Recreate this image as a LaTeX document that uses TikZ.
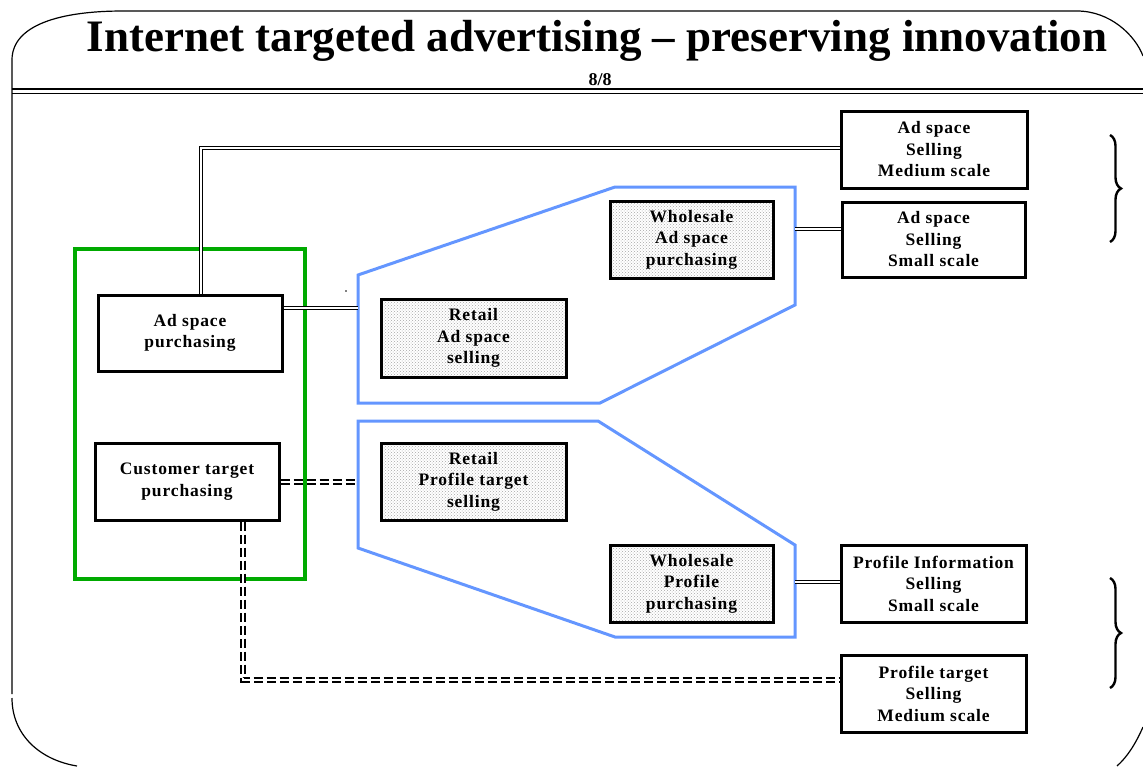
\documentclass[tikz,border=0pt]{standalone}
\usepackage{fontspec}
\setmainfont{Liberation Serif}
\newfontfamily\boxfont[LetterSpace=5]{Liberation Serif}
\usetikzlibrary{patterns,decorations.pathreplacing,calc}
\definecolor{polyblue}{RGB}{100,150,255}
\definecolor{groupgreen}{RGB}{0,170,0}
\begin{document}
\begin{tikzpicture}[x=1pt,y=-1pt,
  box/.style={draw=black,line width=3pt,align=center,inner sep=0pt,
    font=\boxfont\fontsize{17.5}{21.5}\selectfont\bfseries},
  shadedbox/.style={box,preaction={fill=white},pattern=crosshatch dots,pattern color=gray!70},
  dline/.style={draw=black,double=white,line width=1.2pt,double distance=1.8pt},
  ddash/.style={draw=black,double=white,line width=2.2pt,double distance=2pt,dash pattern=on 9pt off 4pt},
  poly/.style={draw=polyblue,line width=3pt,line join=miter},
  framel/.style={draw=black,line width=1.2pt},
  bracel/.style={draw=black,line width=2.4pt,decorate,decoration={brace,amplitude=11pt}}]
\useasboundingbox (0,0) rectangle (1143,766);

% outer frame
\draw[framel] (12,694) -- (12,60) .. controls (12,25) and (60,11) .. (123,11) -- (1077,11)
  .. controls (1110,11) and (1135,35) .. (1143,56);
\draw[framel] (12,698) .. controls (12,735) and (40,760) .. (77,766);
\draw[framel] (1143,727) .. controls (1135,745) and (1127,757) .. (1117,766);
\draw[black,line width=2pt] (12,89) -- (1143,89);
\draw[black,line width=1pt] (12,93.5) -- (1143,93.5);

% title
\node[anchor=base,font=\fontsize{45}{45}\selectfont\bfseries] (title) at (597,51)
  {Internet targeted advertising – preserving innovation};
\node[anchor=base,font=\fontsize{18}{18}\selectfont\bfseries] (page) at (600,85) {8/8};

% green group
\draw[groupgreen,line width=4pt] (75,249) rectangle (305,579);

% blue polygons
\draw[poly] (358,275) -- (615,187) -- (795,187) -- (795,305) -- (600,403) -- (358,403) -- cycle;
\draw[poly] (358,421) -- (598,421) -- (795,545) -- (795,637) -- (615,637) -- (358,548) -- cycle;

% stray dot
\fill (346,291) circle (0.8);

% named connection points
\coordinate (up) at (201,148);
\coordinate (p1) at (358,308);
\coordinate (p2) at (795,229);
\coordinate (p3) at (795,582);
\coordinate (p4) at (358,482);
\coordinate (dn) at (243,680);

% boxes
\node[box,minimum width=186pt,minimum height=77pt] (asm) at (934,149.5) {Ad space\\Selling\\Medium scale};
\node[box,minimum width=183pt,minimum height=75pt] (ass) at (933.5,239.5) {Ad space\\Selling\\Small scale};
\node[shadedbox,minimum width=163pt,minimum height=77pt] (wap) at (691.5,239.5) {Wholesale\\Ad space\\purchasing};
\node[shadedbox,minimum width=185pt,minimum height=78pt] (ras) at (473.5,338) {Retail\\Ad space\\selling};
\node[box,minimum width=184pt,minimum height=76pt] (asp) at (190,333) {Ad space\\purchasing};
\node[box,minimum width=184pt,minimum height=77pt] (ctp) at (187,481.5) {Customer target\\purchasing};
\node[shadedbox,minimum width=185pt,minimum height=77pt] (rps) at (473.5,481.5) {Retail\\Profile target\\selling};
\node[shadedbox,minimum width=163pt,minimum height=77pt] (wpp) at (691.5,583.5) {Wholesale\\Profile\\purchasing};
\node[box,minimum width=185pt,minimum height=77pt] (pis) at (933.5,583.5) {Profile Information\\Selling\\Small scale};
\node[box,minimum width=185pt,minimum height=77pt] (ptm) at (933.5,693.5) {Profile target\\Selling\\Medium scale};

% connectors
\draw[dline] (up |- asp.north) -- (up) -- (up -| asm.west);
\draw[dline] (p1 -| asp.east) -- (p1);
\draw[dline] (p2) -- (p2 -| ass.west);
\draw[dline] (p3) -- (p3 -| pis.west);
\draw[ddash] (p4 -| ctp.east) -- (p4);
\draw[ddash] (dn |- ctp.south) -- (dn) -- (dn -| ptm.west);

% braces
\draw[bracel] (1110,135) -- (1110,242);
\draw[bracel] (1110,578) -- (1110,688);
\end{tikzpicture}
\end{document}
